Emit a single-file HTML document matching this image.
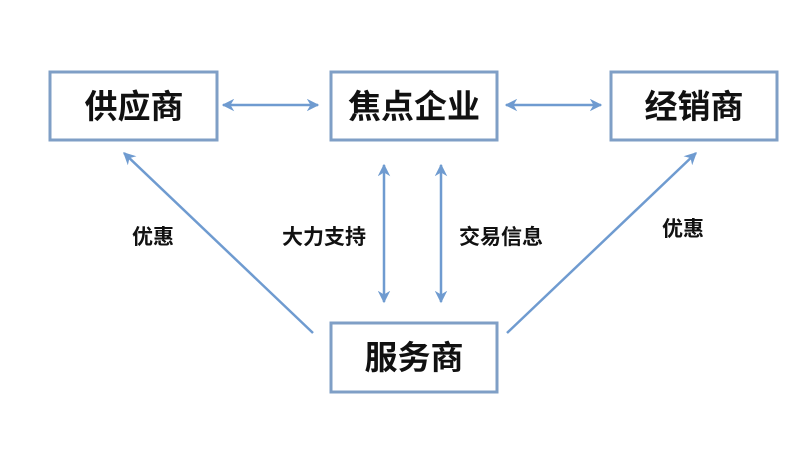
<!DOCTYPE html>
<html><head><meta charset="utf-8"><style>
body{margin:0;background:#fff;width:804px;height:458px;overflow:hidden;font-family:"Liberation Sans","Noto Sans CJK SC",sans-serif}
</style></head><body>
<svg width="804" height="458" xmlns="http://www.w3.org/2000/svg">
<defs><marker id="a" viewBox="0 0 10 10" refX="9" refY="5" markerWidth="5" markerHeight="5" orient="auto-start-reverse"><path d="M0,0 L10,5 L0,10 L3,5 z" fill="#6f9bd0"/></marker></defs>
<g fill="none" stroke="#7f9fc6" stroke-width="3">
<rect x="50" y="72" width="167" height="68"/>
<rect x="331" y="72" width="166" height="68"/>
<rect x="611" y="72" width="166" height="68"/>
<rect x="331" y="323" width="166" height="69"/>
</g>
<g stroke="#6f9bd0" stroke-width="2.5" marker-start="url(#a)" marker-end="url(#a)">
<line x1="223" y1="105" x2="318" y2="105"/>
<line x1="506" y1="105" x2="601" y2="105"/>
<line x1="384" y1="165" x2="384" y2="302"/>
<line x1="441" y1="165" x2="441" y2="302"/>
</g>
<g stroke="#6f9bd0" stroke-width="2.5">
<line x1="313" y1="333" x2="124" y2="153" marker-end="url(#a)"/>
<line x1="507" y1="333" x2="696" y2="153" marker-end="url(#a)"/>
</g>
<g font-weight="bold" font-size="33" text-anchor="middle" fill="#111">
<text x="134" y="118">供应商</text>
<text x="414" y="118">焦点企业</text>
<text x="694" y="118">经销商</text>
<text x="414" y="369">服务商</text>
</g>
<g font-weight="bold" font-size="21" text-anchor="middle" fill="#111">
<text x="153" y="244">优惠</text>
<text x="324" y="244">大力支持</text>
<text x="501" y="244">交易信息</text>
<text x="683" y="236">优惠</text>
</g>
</svg>
</body></html>
